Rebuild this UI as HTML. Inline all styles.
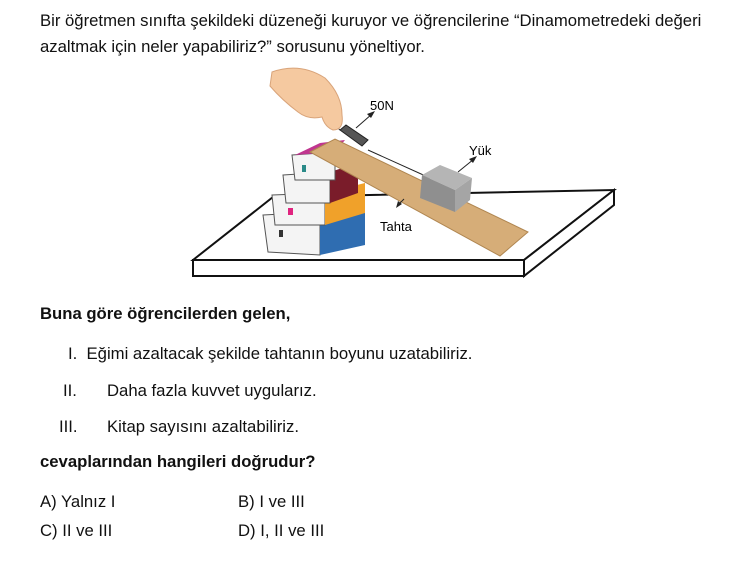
<!DOCTYPE html>
<html><head><meta charset="utf-8"><style>
body{margin:0;width:743px;height:563px;background:#fff;font-family:"Liberation Sans",Arial,sans-serif;color:#111;position:relative;overflow:hidden}
.t{position:absolute;font-size:16.7px;white-space:nowrap}
.b{font-weight:bold}
</style></head><body>
<div class="t" style="left:40px;top:11px">Bir öğretmen sınıfta şekildeki düzeneği kuruyor ve öğrencilerine “Dinamometredeki değeri</div>
<div class="t" style="left:40px;top:37px">azaltmak için neler yapabiliriz?” sorusunu yöneltiyor.</div>
<svg style="position:absolute;left:0;top:0" width="743" height="300">
<polygon points="193,260 273,197 614,190 524,260" fill="#fff" stroke="#111" stroke-width="2"/>
<polygon points="193,260 524,260 524,276 193,276" fill="#fff" stroke="#111" stroke-width="2"/>
<polygon points="524,260 614,190 614,205 524,276" fill="#fff" stroke="#111" stroke-width="2"/>
<polygon points="263,215 320,212 320,255 268,252" fill="#f4f4f4" stroke="#555"/>
<polygon points="320,212 365,202 365,245 320,255" fill="#2f6db1"/>
<polygon points="272,195 325,193 325,225 275,225" fill="#f4f4f4" stroke="#555"/>
<polygon points="325,193 365,183 365,213 325,225" fill="#f0a12a"/>
<polygon points="283,175 330,172 330,203 286,203" fill="#f4f4f4" stroke="#555"/>
<polygon points="330,172 358,163 358,193 330,203" fill="#7a1c2a"/>
<polygon points="292,155 335,152 335,180 295,180" fill="#f4f4f4" stroke="#555"/>
<polygon points="295,155 320,143 345,140 335,152" fill="#c0358f"/>
<rect x="279" y="230" width="4" height="7" fill="#333"/>
<rect x="288" y="208" width="5" height="7" fill="#e0247f"/>
<rect x="302" y="165" width="4" height="7" fill="#2a8a88"/>
<polygon points="310,152 335,139 528,232 500,256" fill="#d6ad78" stroke="#b08650"/>
<line x1="368" y1="150" x2="430" y2="178" stroke="#222" stroke-width="1"/>
<polygon points="422,175 440,165 472,178 455,190" fill="#b5b5b5"/>
<polygon points="422,175 455,190 455,212 420,198" fill="#8f8f8f"/>
<polygon points="455,190 472,178 470,200 455,212" fill="#a5a5a5"/>
<polygon points="340,130 346,125 368,140 362,146" fill="#555" stroke="#222"/>
<path d="M340,130 q-4,-3 -2,-6" stroke="#222" fill="none"/>
<path d="M272,72 Q300,62 325,78 Q342,95 342,115 Q344,130 333,130 Q325,127 322,117 Q308,120 298,112 Q282,100 270,86 Z" fill="#f5c9a0" stroke="#d9a47a"/>
<line x1="356" y1="128" x2="372" y2="114" stroke="#222"/><polygon points="375,111 367,114 371,118" fill="#222"/>
<line x1="458" y1="172" x2="474" y2="159" stroke="#222"/><polygon points="477,156 469,159 473,163" fill="#222"/>
<line x1="398" y1="205" x2="404" y2="199" stroke="#222"/><polygon points="396,208 398,201 402,204" fill="#222"/>
<text x="370" y="110" font-size="13" font-family="Liberation Sans">50N</text>
<text x="469" y="155" font-size="13" font-family="Liberation Sans">Yük</text>
<text x="380" y="231" font-size="13" font-family="Liberation Sans">Tahta</text>
</svg>
<div class="t b" style="left:40px;top:304px">Buna göre öğrencilerden gelen,</div>
<div class="t" style="left:68px;top:344px">I.&nbsp; Eğimi azaltacak şekilde tahtanın boyunu uzatabiliriz.</div>
<div class="t" style="left:63px;top:381px">II.</div><div class="t" style="left:107px;top:381px">Daha fazla kuvvet uygularız.</div>
<div class="t" style="left:59px;top:417px">III.</div><div class="t" style="left:107px;top:417px">Kitap sayısını azaltabiliriz.</div>
<div class="t b" style="left:40px;top:452px">cevaplarından hangileri doğrudur?</div>
<div class="t" style="left:40px;top:492px">A) Yalnız I</div><div class="t" style="left:238px;top:492px">B) I ve III</div>
<div class="t" style="left:40px;top:521px">C) II ve III</div><div class="t" style="left:238px;top:521px">D) I, II ve III</div>
</body></html>
